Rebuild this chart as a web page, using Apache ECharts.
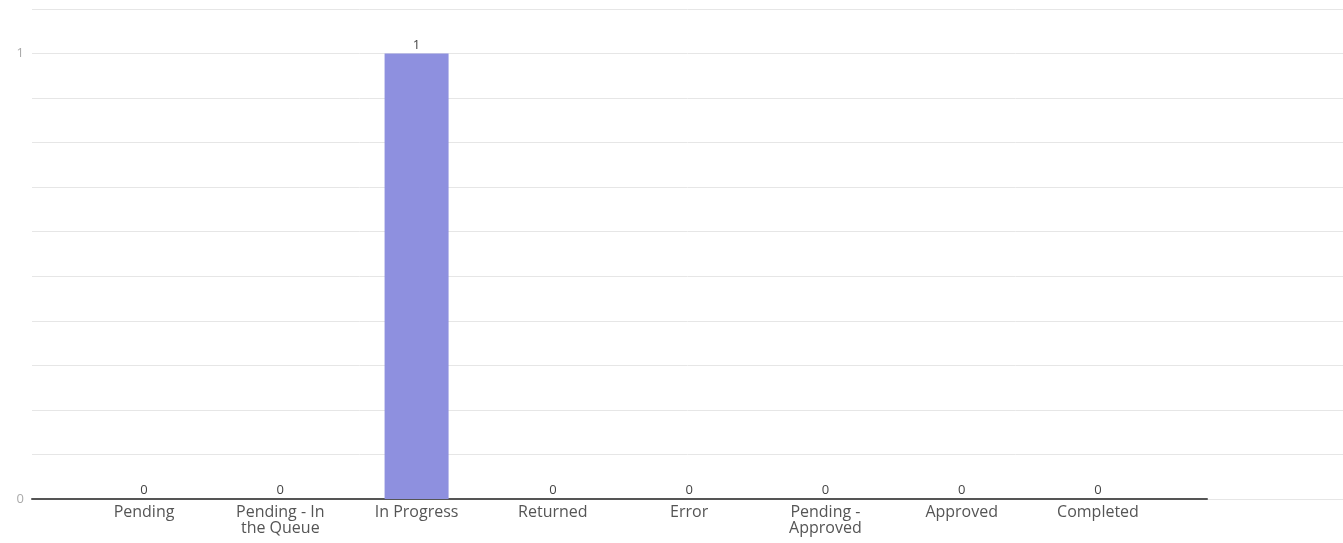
<!DOCTYPE html>
<html>
<head>
<meta charset="utf-8">
<script src="https://cdn.jsdelivr.net/npm/echarts@6/dist/echarts.min.js"></script>
<style>html,body{margin:0;padding:0;background:#fff}#c{width:1343px;height:543px}</style>
</head>
<body>
<div id="c"></div>
<script>
const categories = ['Pending', 'Pending - In\nthe Queue', 'In Progress', 'Returned', 'Error', 'Pending -\nApproved', 'Approved', 'Completed'];
const counts = [0, 0, 1, 0, 0, 0, 0, 0];
const yTickLabels = [0, 1];

const chart = echarts.init(document.getElementById('c'));
const font = '"Open Sans", "Noto Sans", sans-serif';
const positions = categories.map((_, i) => i);

chart.setOption({
  animation: false,
  textStyle: { fontFamily: font },
  grid: [
    { left: 32, right: 136, top: 9, bottom: 44, containLabel: false },
    { left: 32, right: 0, top: 9, bottom: 44, containLabel: false }
  ],
  xAxis: [
    {
      type: 'value', gridIndex: 0, min: -0.822, max: 7.8,
      axisLine: { show: true, lineStyle: { color: '#555', width: 2 } },
      axisTick: { show: false },
      splitLine: { show: false },
      axisLabel: {
        customValues: positions,
        formatter: v => categories[Math.round(v)] || '',
        color: '#555', fontSize: 16, fontFamily: font, lineHeight: 16, margin: 5
      }
    },
    { type: 'value', gridIndex: 1, show: false, min: 0, max: 1 }
  ],
  yAxis: [
    { type: 'value', gridIndex: 0, min: 0, max: 1.1, interval: 0.1, show: false },
    {
      type: 'value', gridIndex: 1, min: 0, max: 1.1, interval: 0.1,
      axisLine: { show: false }, axisTick: { show: false },
      splitLine: { show: true, lineStyle: { color: '#e6e6e6', width: 1 } },
      axisLabel: {
        color: '#aaa', fontSize: 13, fontFamily: font, margin: 8,
        formatter: v => {
          const r = Math.round(v * 10) / 10;
          return yTickLabels.includes(r) ? String(r) : '';
        }
      }
    }
  ],
  series: [{
    type: 'bar', xAxisIndex: 0, yAxisIndex: 0,
    data: counts.map((v, i) => [i, v]),
    barWidth: 64,
    itemStyle: { color: '#8e90df' },
    label: { show: true, position: 'top', color: '#444', fontSize: 13, fontFamily: font, distance: 2, formatter: p => p.value[1] }
  }]
});
</script>
</body>
</html>
